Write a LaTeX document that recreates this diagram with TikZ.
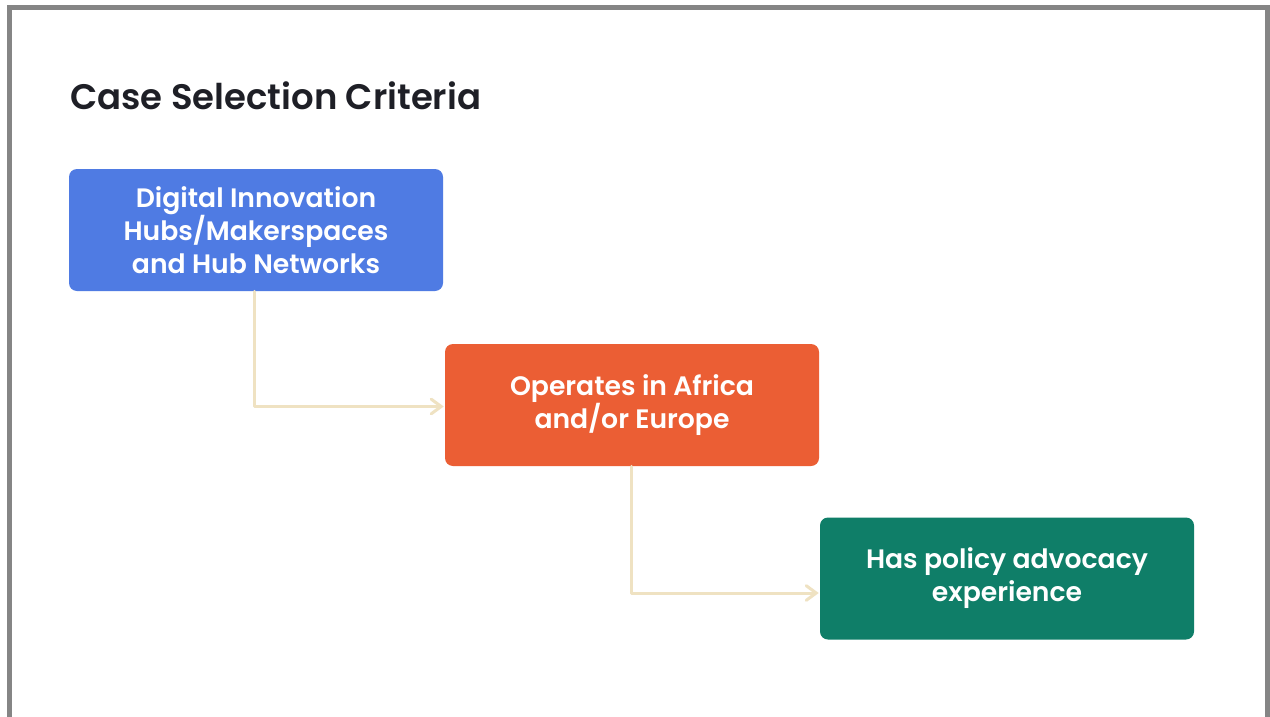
\documentclass[tikz,border=0pt]{standalone}
\usepackage{fontspec}
\setmainfont{Poppins}[BoldFont={Poppins SemiBold}]
\usetikzlibrary{arrows.meta,calc}
\definecolor{framegray}{HTML}{858585}
\definecolor{titleink}{HTML}{1E1F26}
\definecolor{hubblue}{HTML}{4F7BE3}
\definecolor{regionorange}{HTML}{EB5E34}
\definecolor{policygreen}{HTML}{0F7E68}
\definecolor{linkbeige}{HTML}{EFE2C2}
\tikzset{
  criterion/.style={rectangle, rounded corners=6pt, minimum width=280.5pt,
    minimum height=91.5pt, text=white, align=center, inner sep=0pt,
    font=\fontsize{20}{24.75}\selectfont\bfseries},
  link/.style={draw=linkbeige, line width=2.25pt, line cap=round, line join=round,
    -{Straight Barb[length=7.5pt,width=11pt,line cap=round]}},
}
\begin{document}
\begin{tikzpicture}[x=0.75pt,y=-0.75pt]
  \clip (0,0) rectangle (1270,717);
  \fill[white] (0,0) rectangle (1270,717);
  % slide frame, open at the bottom edge
  \draw[framegray, line width=3.75pt] (9.5,8) rectangle (1267.5,740);
  % heading
  \node[anchor=base west, inner sep=0pt, text=titleink,
        font=\fontsize{26.6}{30}\selectfont\bfseries] (title) at (70,109)
        {Case Selection Criteria};
  % criteria boxes
  \node[criterion, fill=hubblue] (hubs) at (256,230)
    {Digital Innovation\\Hubs/Makerspaces\\and Hub Networks};
  \node[criterion, fill=regionorange] (region) at (632,405)
    {Operates in Africa\\and/or Europe};
  \node[criterion, fill=policygreen] (policy) at (1007,578.5)
    {Has policy advocacy\\experience};
  % connectors
  \draw[link] ($(hubs.south)+(-2,0)$) |- ($(region.west)+(-1,1.5)$);
  \draw[link] ($(region.south)+(-1,0)$) |- ($(policy.west)+(-1,14.5)$);
\end{tikzpicture}
\end{document}
